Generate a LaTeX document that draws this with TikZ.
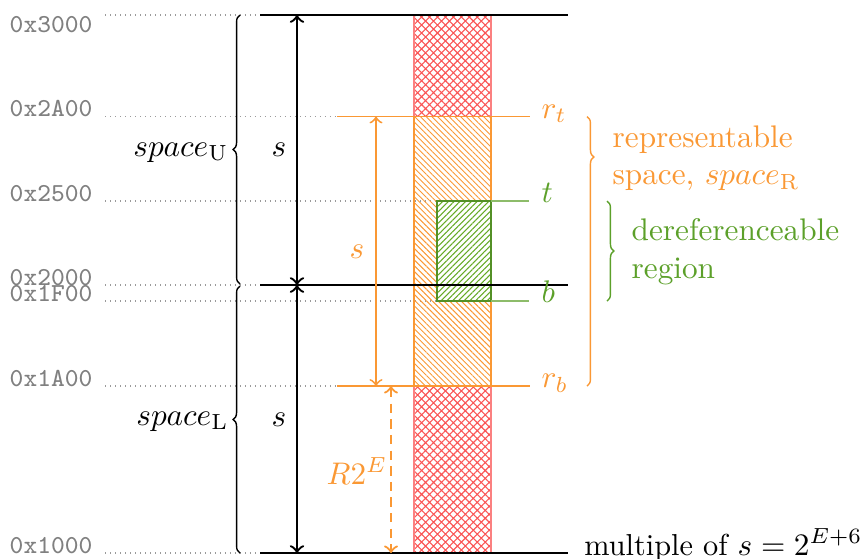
\documentclass[tikz,border=0pt]{standalone}
\usetikzlibrary{patterns.meta,decorations.pathreplacing}
\definecolor{myorange}{RGB}{250,152,52}
\definecolor{mygreen}{RGB}{92,160,42}
\definecolor{myred}{RGB}{250,85,85}
\definecolor{addrgray}{RGB}{128,128,128}
\tikzset{
  addr/.style={font=\ttfamily\fontsize{8.3}{10}\selectfont, text=addrgray, inner sep=0pt, anchor=base east},
  guide/.style={addrgray!80, line width=0.45pt, dash pattern=on 0.45pt off 1.15pt},
  bound/.style={black, line width=0.4pt},
  sarrow/.style={<->, line width=0.75pt},
  lbrace/.style={decorate, decoration={brace, amplitude=2.2pt}, line width=0.45pt},
  lbl/.style={inner sep=0pt},
  redbox/.style={pattern={Hatch[angle=45,distance=1.8pt,line width=0.35pt]}, pattern color=myred},
  orangebox/.style={pattern={Lines[angle=-45,distance=1.3pt,line width=0.3pt]}, pattern color=myorange},
  greenbox/.style={pattern={Lines[angle=45,distance=1.3pt,line width=0.35pt]}, pattern color=mygreen!90!lime},
}
\begin{document}
\begin{tikzpicture}[x=0.32pt,y=-0.32pt]
\useasboundingbox (0,0) rectangle (866,558);

% ---------- address labels ----------
\node[addr, anchor=north east] (a3000) at (93,16) {0x3000};
\node[addr] (a2A00) at (93,116.5) {0x2A00};
\node[addr] (a2500) at (93,201) {0x2500};
\node[addr] (a2000) at (93,285) {0x2000};
\node[addr] (a1F00) at (93,301) {0x1F00};
\node[addr] (a1A00) at (93,386) {0x1A00};
\node[addr] (a1000) at (93,553) {0x1000};

% ---------- dotted guides ----------
\coordinate (g3000s) at (105,15);   \coordinate (g3000e) at (258,15);
\coordinate (g2A00s) at (105,116.5);\coordinate (g2A00e) at (337,116.5);
\coordinate (g2500s) at (105,201);  \coordinate (g2500e) at (437,201);
\coordinate (g2000s) at (105,285);  \coordinate (g2000e) at (258,285);
\coordinate (g1F00s) at (105,301);  \coordinate (g1F00e) at (437,301);
\coordinate (g1A00s) at (105,386);  \coordinate (g1A00e) at (337,386);
\coordinate (g1000s) at (105,553);  \coordinate (g1000e) at (258,553);
\foreach \n in {3000,2A00,2500,2000,1F00,1A00,1000}
  \draw[guide] (g\n s) -- (g\n e);

% ---------- hatched boxes ----------
\coordinate (redTopNW) at (414,15);   \coordinate (redTopSE) at (491,116.5);
\coordinate (redBotNW) at (414,386);  \coordinate (redBotSE) at (491,553);
\coordinate (orNW) at (414,116.5);    \coordinate (orSE) at (491,386);
\coordinate (grNW) at (437,201);      \coordinate (grSE) at (491,301);
\fill[redbox] (redTopNW) rectangle (redTopSE);
\fill[redbox] (redBotNW) rectangle (redBotSE);
\fill[orangebox] (orNW) rectangle (orSE);
\draw[myred!75, line width=0.6pt] (redTopNW) rectangle (redTopSE);
\draw[myred!75, line width=0.6pt] (redBotNW) rectangle (redBotSE);
\draw[myorange, line width=0.6pt] (orNW) rectangle (orSE);
\fill[white] (grNW) rectangle (grSE);
\fill[greenbox] (grNW) rectangle (grSE);
\draw[mygreen!90!black, line width=0.6pt] (grNW) rectangle (grSE);

% ---------- black bounds ----------
\coordinate (b3000l) at (260,15);  \coordinate (b3000r) at (568,15);
\coordinate (b2000l) at (260,285); \coordinate (b2000r) at (568,285);
\coordinate (b1000l) at (260,553); \coordinate (b1000r) at (568,553);
\draw[bound] (b3000l) -- (b3000r);
\draw[bound] (b2000l) -- (b2000r);
\draw[bound] (b1000l) -- (b1000r);

% ---------- orange bounds ----------
\coordinate (rtl) at (337,116.5); \coordinate (rtr) at (530,116.5);
\coordinate (rbl) at (337,386);   \coordinate (rbr) at (530,386);
\draw[myorange, line width=0.5pt] (rtl) -- (rtr);
\draw[myorange, line width=0.5pt] (rbl) -- (rbr);

% ---------- green bounds ----------
\coordinate (tl) at (491,201); \coordinate (tr) at (529,201);
\coordinate (bl) at (491,301); \coordinate (br) at (529,301);
\draw[mygreen!70, line width=0.6pt] (tl) -- (tr);
\draw[mygreen!70, line width=0.6pt] (bl) -- (br);

% ---------- s arrows ----------
\coordinate (sTop) at (297,15); \coordinate (sMid) at (297,285); \coordinate (sBot) at (297,553);
\draw[sarrow] (sTop) -- (sMid);
\draw[sarrow] (sMid) -- (sBot);
\node[lbl] (sU) at (279,150) {$s$};
\node[lbl] (sL) at (279,420) {$s$};

\coordinate (osTop) at (376,116.5); \coordinate (osBot) at (376,386);
\draw[<->, myorange, line width=0.6pt] (osTop) -- (osBot);
\node[lbl, text=myorange] (sR) at (357,252) {$s$};

\coordinate (rTop) at (391,386); \coordinate (rBot) at (391,553);
\draw[<->, myorange, line width=0.7pt, dash pattern=on 3pt off 2pt] (rTop) -- (rBot);
\node[lbl, text=myorange] (R2E) at (357,471) {$R2^E$};

% ---------- labels on the right of the column ----------
\node[lbl, anchor=base west, text=myorange] (rtlab) at (541,118) {$r_t$};
\node[lbl, anchor=base west, text=myorange] (rblab) at (541,387.5) {$r_b$};
\node[lbl, anchor=base west, text=mygreen] (tlab) at (541,202) {$t$};
\node[lbl, anchor=base west, text=mygreen] (blab) at (541,302) {$b$};
\node[lbl, anchor=base east, font=\fontsize{9.7}{12}\selectfont] (mult) at (863,555) {multiple of $s = 2^{E+6}$};

% ---------- left braces ----------
\coordinate (uBot) at (240,284); \coordinate (uTop) at (240,15);
\coordinate (lBot) at (240,553); \coordinate (lTop) at (240,286);
\draw[lbrace] (uBot) -- (uTop);
\draw[lbrace] (lBot) -- (lTop);
\node[lbl, anchor=base east] (spU) at (229,156) {$space_{\mathrm{U}}$};
\node[lbl, anchor=base east] (spL) at (229,425) {$space_{\mathrm{L}}$};

% ---------- right braces ----------
\coordinate (oTop) at (587,116.5); \coordinate (oBot) at (587,386);
\draw[myorange, decorate, decoration={brace, amplitude=2.2pt, aspect=0.15}, line width=0.45pt] (oTop) -- (oBot);
\node[lbl, anchor=north west, align=left, text=myorange] (repr) at (612,125)
  {representable\\space, $space_{\mathrm{R}}$};

\coordinate (gTop) at (607,201); \coordinate (gBot) at (607,301);
\draw[mygreen, decorate, decoration={brace, amplitude=2.2pt}, line width=0.45pt] (gTop) -- (gBot);
\node[lbl, anchor=north west, align=left, text=mygreen] (deref) at (631,218.3)
  {dereferenceable\\region};
\end{tikzpicture}
\end{document}
